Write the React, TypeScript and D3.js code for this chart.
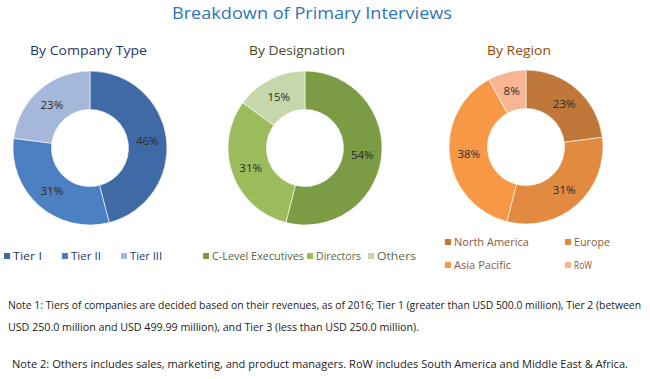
import React from "react";
import * as d3 from "d3";

const companyTypes = ["Tier I", "Tier II", "Tier III"];
const companyValues = [46, 31, 23];
const companyColors = ["#3F6AA6", "#4C80C2", "#A6B8DA"];

const designations = ["C-Level Executives", "Directors", "Others"];
const designationValues = [54, 31, 15];
const designationColors = ["#7B9C45", "#9BBC5A", "#C6D8AB"];

const regions = ["North America", "Europe", "Asia Pacific", "RoW"];
const regionValues = [23, 31, 38, 8];
const regionColors = ["#C0773A", "#E38A41", "#F79847", "#F8B592"];

const title = "Breakdown of Primary Interviews";
const subtitles = ["By Company Type", "By Designation", "By Region"];
const note1a = "Note 1: Tiers of companies are decided based on their revenues, as of 2016; Tier 1 (greater than USD 500.0 million), Tier 2 (between";
const note1b = "USD 250.0 million and USD 499.99 million), and Tier 3 (less than USD 250.0 million).";
const note2 = "Note 2: Others includes sales, marketing, and product managers. RoW includes South America and Middle East & Africa.";

const FONT = "'Open Sans', 'DejaVu Sans', sans-serif";

function Donut({ cx, cy, values, colors }: { cx: number; cy: number; values: number[]; colors: string[] }) {
  const outer = 77;
  const inner = 38.5;
  const pie = d3.pie<number>().value((d) => d).sort(null);
  const arcs = pie(values);
  const arc = d3.arc<d3.PieArcDatum<number>>().innerRadius(inner).outerRadius(outer);
  const labelArc = d3.arc<d3.PieArcDatum<number>>().innerRadius((inner + outer) / 2).outerRadius((inner + outer) / 2);
  return (
    <g transform={`translate(${cx},${cy})`}>
      {arcs.map((a, i) => (
        <path key={i} d={arc(a) || ""} fill={colors[i]} stroke="#ffffff" strokeWidth={0.6} />
      ))}
      {arcs.map((a, i) => {
        const [x, y] = labelArc.centroid(a);
        return (
          <text key={"t" + i} x={x} y={y} dy="0.35em" textAnchor="middle" fontSize={11.5} fill="#2a2a2a" fontFamily={FONT}>
            {a.data}%
          </text>
        );
      })}
    </g>
  );
}

function Legend({ items, colors, xs, ys, widths, textColor, fontSize }: { items: string[]; colors: string[]; xs: number[]; ys: number[]; widths: number[]; textColor: string; fontSize: number }) {
  return (
    <g>
      {items.map((it, i) => (
        <g key={it} transform={`translate(${xs[i]},${ys[i]})`}>
          <rect x={0} y={-3} width={6} height={6} fill={colors[i]} />
          <text x={9} y={0} dy="0.35em" fontSize={fontSize} fill={textColor} fontFamily={FONT} textLength={widths[i]} lengthAdjust="spacingAndGlyphs">
            {it}
          </text>
        </g>
      ))}
    </g>
  );
}

export default function App() {
  return (
    <svg width={650} height={379} style={{ position: "absolute", left: 0, top: 0, background: "#fff" }}>
      <rect width={650} height={379} fill="#ffffff" />
      <text x={312} y={19} textAnchor="middle" fontSize={17} fill="#2E75B6" fontFamily={FONT} textLength={280} lengthAdjust="spacingAndGlyphs">
        {title}
      </text>
      <text x={30} y={55} fontSize={12.5} fill="#1F3864" fontFamily={FONT} textLength={117} lengthAdjust="spacingAndGlyphs">
        {subtitles[0]}
      </text>
      <text x={249} y={55} fontSize={12.5} fill="#4A4A2A" fontFamily={FONT} textLength={96} lengthAdjust="spacingAndGlyphs">
        {subtitles[1]}
      </text>
      <text x={487} y={55} fontSize={12.5} fill="#974806" fontFamily={FONT} textLength={64} lengthAdjust="spacingAndGlyphs">
        {subtitles[2]}
      </text>

      <Donut cx={90} cy={148} values={companyValues} colors={companyColors} />
      <Donut cx={305} cy={148} values={designationValues} colors={designationColors} />
      <Donut cx={526} cy={147} values={regionValues} colors={regionColors} />

      <Legend items={companyTypes} colors={companyColors} xs={[4, 62, 121]} ys={[256, 256, 256]} widths={[29, 30, 32]} textColor="#1F3864" fontSize={11.5} />
      <Legend items={designations} colors={designationColors} xs={[203, 307, 368]} ys={[256, 256, 256]} widths={[92, 45, 39]} textColor="#5A6645" fontSize={10.5} />
      <Legend items={regions} colors={regionColors} xs={[445, 565, 445, 565]} ys={[242, 242, 265, 265]} widths={[75, 36, 57, 18]} textColor="#8A5A3A" fontSize={10.5} />

      <text x={8} y={309} fontSize={10.5} fill="#222222" fontFamily={FONT} textLength={633} lengthAdjust="spacingAndGlyphs">
        {note1a}
      </text>
      <text x={8} y={331} fontSize={10.5} fill="#222222" fontFamily={FONT} textLength={411} lengthAdjust="spacingAndGlyphs">
        {note1b}
      </text>
      <text x={12} y={368} fontSize={10.5} fill="#222222" fontFamily={FONT} textLength={616} lengthAdjust="spacingAndGlyphs">
        {note2}
      </text>
    </svg>
  );
}
